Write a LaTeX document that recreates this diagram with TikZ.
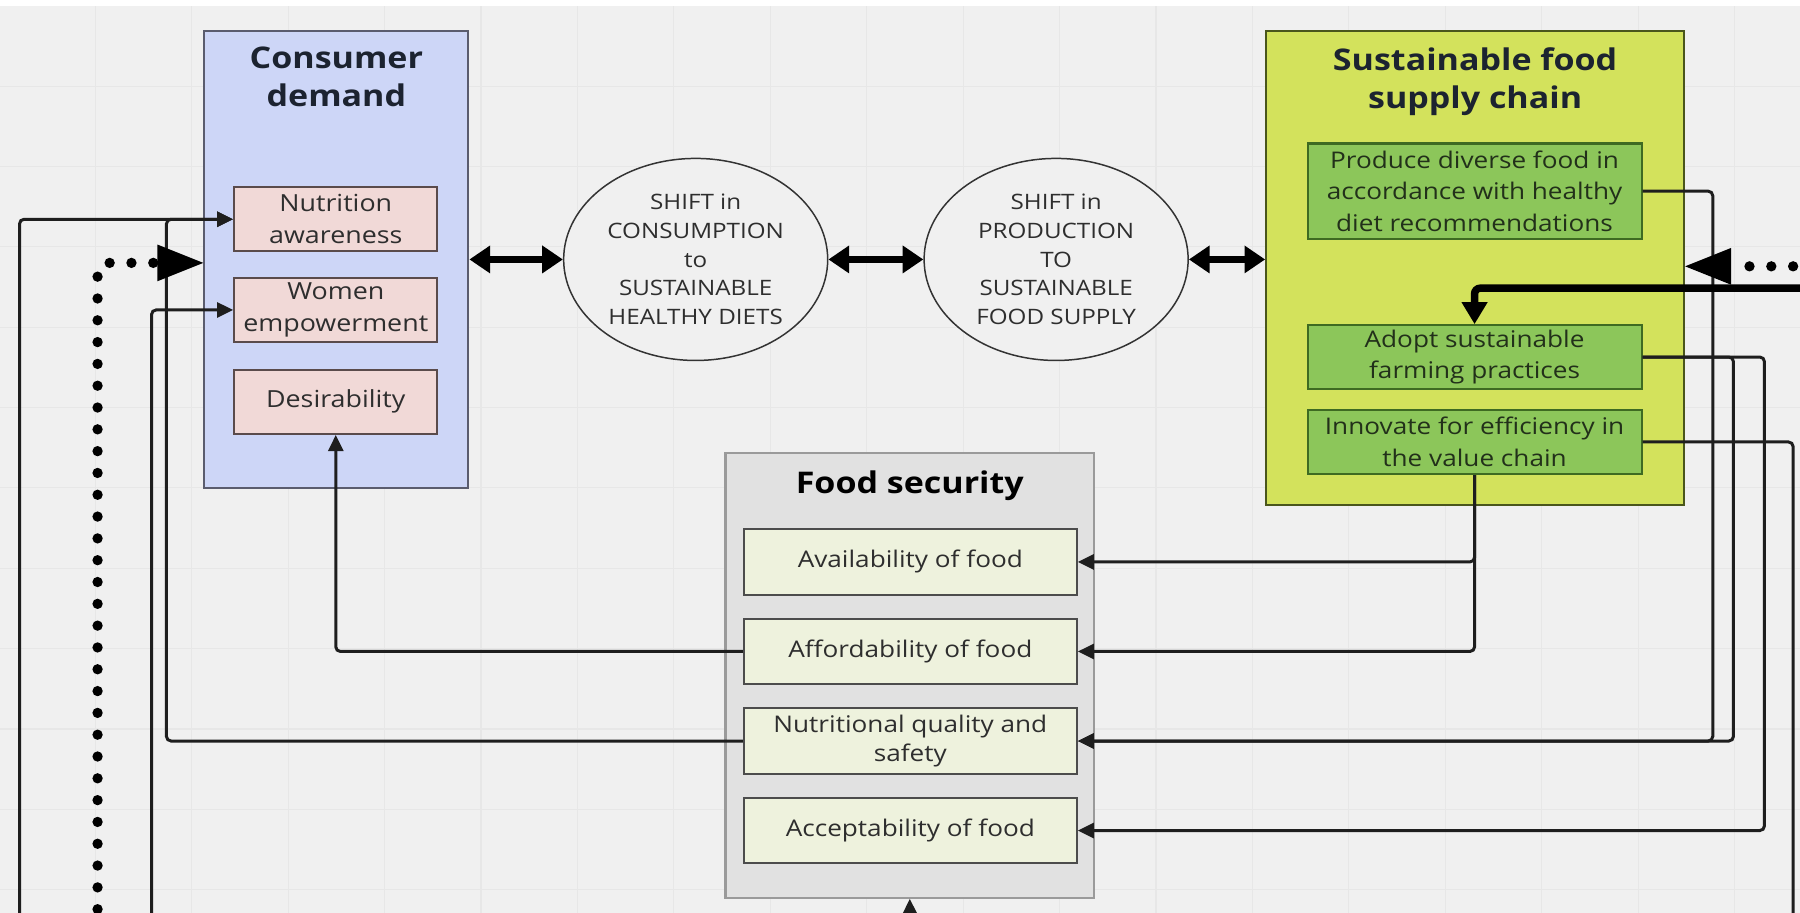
\documentclass[tikz,border=0pt]{standalone}
\usepackage{fontspec}
\setmainfont{Open Sans}[FakeStretch=1.14]
\usetikzlibrary{arrows.meta,shapes.geometric,calc}
\definecolor{bg}{HTML}{F0F0F0}
\definecolor{gridc}{HTML}{E7E7E7}
\definecolor{cdfill}{HTML}{CDD6F7}
\definecolor{cdline}{HTML}{5A5C6E}
\definecolor{pinkfill}{HTML}{F1D9D7}
\definecolor{pinkline}{HTML}{5A4B4B}
\definecolor{scfill}{HTML}{D3E25C}
\definecolor{scline}{HTML}{4A561C}
\definecolor{gfill}{HTML}{8CC65A}
\definecolor{gline}{HTML}{3E6A22}
\definecolor{fsfill}{HTML}{E1E1E1}
\definecolor{fsline}{HTML}{9A9A9A}
\definecolor{fifill}{HTML}{EEF2DD}
\definecolor{filine}{HTML}{4C4C4C}
\definecolor{lnk}{HTML}{1E1E1E}
\definecolor{ttl}{HTML}{1C2330}
\definecolor{txt}{HTML}{2E2E2E}
\definecolor{gtxt}{HTML}{22301A}
\begin{document}
\begin{tikzpicture}[x=1pt,y=-1pt,
  outerbox/.style={draw=#1, line width=1.8pt, inner sep=0pt},
  title/.style={font=\bfseries\fontsize{26}{33}\selectfont, align=center, inner sep=0pt},
  pinkbox/.style={draw=pinkline, fill=pinkfill, line width=1.8pt, minimum width=177pt, minimum height=56pt, align=center, font=\fontsize{20.5}{28}\selectfont, text=txt, inner sep=0pt},
  greenbox/.style={draw=gline, fill=gfill, line width=1.8pt, minimum width=291pt, minimum height=56pt, align=center, font=\fontsize{20}{27.5}\selectfont, text=gtxt, inner sep=0pt},
  fsbox/.style={draw=filine, fill=fifill, line width=1.8pt, minimum width=290pt, minimum height=57pt, align=center, font=\fontsize{20}{26}\selectfont, text=txt, inner sep=0pt},
  shiftell/.style={ellipse, draw=black!80, line width=1.3pt, fill=bg, minimum width=230pt, minimum height=176pt, align=center, font=\fontsize{18.5}{25}\selectfont, text=txt, inner sep=0pt},
  conn/.style={draw=lnk, line width=2.6pt, rounded corners=4pt, -{Triangle[length=14pt,width=13pt]}},
  plain/.style={draw=lnk, line width=2.6pt, rounded corners=4pt},
  dbl/.style={draw=black, line width=5.5pt, {Triangle[length=18pt,width=23pt]}-{Triangle[length=18pt,width=23pt]}},
  dotline/.style={draw=black, line width=9pt, line cap=round, dash pattern=on 0pt off 19pt, rounded corners=8pt, -{Triangle[length=40pt,width=32pt,line width=0pt]}},
  thickarr/.style={draw=black, line width=6.5pt, rounded corners=5pt, -{Triangle[length=19pt,width=23pt,line width=0pt]}}
]
\useasboundingbox (0,0) rectangle (1568,795);
\clip (0,0) rectangle (1568,795);
\fill[bg] (0,0) rectangle (1568,795);
\foreach \x in {83,167,...,1568} \draw[gridc, line width=1pt] (\x,0) -- (\x,795);
\foreach \y in {5,75,...,795} \draw[gridc, line width=1pt] (0,\y) -- (1568,\y);
\fill[white] (0,0) rectangle (1568,5);

% Consumer demand
\node[outerbox=cdline, fill=cdfill, minimum width=230pt, minimum height=398pt] (cd) at (293,226) {};
\node[title, text=ttl] (cdt) at (293,67) {Consumer\\demand};
\node[pinkbox] (na) at (292.5,191) {Nutrition\\awareness};
\node[pinkbox] (we) at (292.5,270) {Women\\empowerment};
\node[pinkbox] (de) at (292.5,350) {Desirability};

% Shift ellipses
\node[shiftell] (e1) at (606,226) {SHIFT in\\CONSUMPTION\\to\\SUSTAINABLE\\HEALTHY DIETS};
\node[shiftell] (e2) at (920,226) {SHIFT in\\PRODUCTION\\TO\\SUSTAINABLE\\FOOD SUPPLY};

% Sustainable food supply chain
\node[outerbox=scline, fill=scfill, minimum width=364pt, minimum height=413pt] (sc) at (1285,233.5) {};
\node[title, text=ttl] (sct) at (1285,71.5) {Sustainable food\\supply chain};
\node[greenbox, minimum height=83pt] (pd) at (1284.5,166.5) {Produce diverse food in\\accordance with healthy\\diet recommendations};
\node[greenbox] (ad) at (1284.5,311) {Adopt sustainable\\farming practices};
\node[greenbox] (in) at (1284.5,385) {Innovate for efficiency in\\the value chain};

% Food security
\node[outerbox=fsline, fill=fsfill, minimum width=321pt, minimum height=387pt] (fs) at (792.5,588.5) {};
\node[title, text=black] (fst) at (792.5,423) {Food security};
\node[fsbox] (av) at (793,489.5) {Availability of food};
\node[fsbox] (af) at (793,567.5) {Affordability of food};
\node[fsbox] (nq) at (793,645.5) {Nutritional quality and\\safety};
\node[fsbox] (ac) at (793,723.5) {Acceptability of food};

% double arrows
\draw[dbl] (cd.east) -- (e1.west);
\draw[dbl] (e1.east) -- (e2.west);
\draw[dbl] (e2.east) -- (e2.east -| sc.west);

% right-hand connectors
\coordinate (r1) at (1492,0);
\coordinate (r2) at (1510,0);
\coordinate (r3) at (1537,0);
\coordinate (r4) at (1562,830);
\draw[conn] (in.south) |- (av.east);
\draw[conn] (in.south) |- (af.east);
\draw[conn] (pd.east) -| (r1 |- nq.east) -- (nq.east);
\draw[conn] (ad.east) -| (r2 |- nq.east) -- (nq.east);
\draw[conn] (ad.east) -| (r3 |- ac.east) -- (ac.east);
\draw[plain] (in.east) -| (r4);

% thick arrow and dotted arrow on the right
\coordinate (tr) at (1600,251);
\draw[thickarr] (tr) -| (ad.north);
\coordinate (dr) at (1600,232);
\draw[dotline] (dr) -- (dr -| sc.east);

% left-hand connectors
\coordinate (l1) at (17,830);
\coordinate (j1) at (145,191);
\coordinate (l3) at (132,830);
\coordinate (ld) at (85,830);
\coordinate (ldc) at (85,229);
\draw[conn] (l1) |- (na.west);
\draw[conn] (nq.west) -| (j1) -- (na.west);
\draw[conn] (l3) |- (we.west);
\draw[dotline] (ld) -- (ldc) -- (ldc -| cd.west);
\draw[conn] (af.west) -| (de.south);

% bottom arrow into food security
\coordinate (bt) at (793,830);
\draw[conn] (bt) -- (fs.south);
\end{tikzpicture}
\end{document}
